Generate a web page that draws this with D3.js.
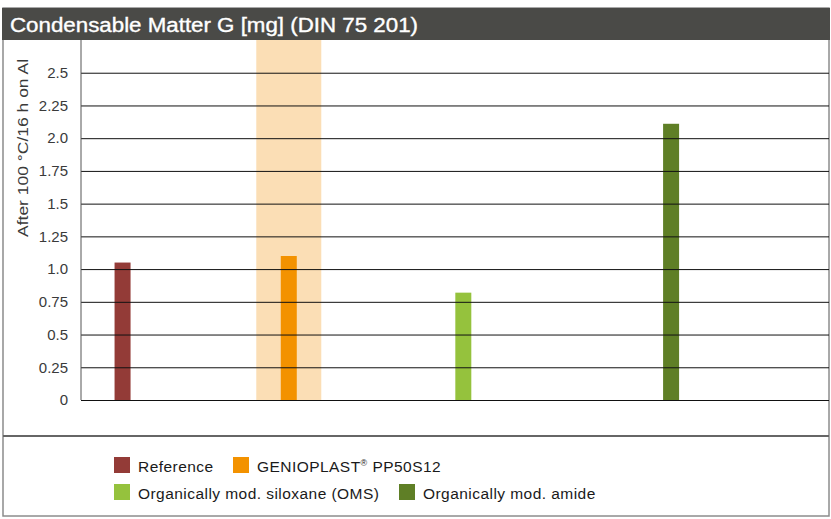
<!DOCTYPE html>
<html>
<head>
<meta charset="utf-8">
<script src="https://cdn.jsdelivr.net/npm/d3@7"></script>
<style>
  body { margin: 0; background: #fff; }
  svg { display: block; font-family: "Liberation Sans", Arial, sans-serif; }
</style>
</head>
<body>
<script>
// * DATA
const categories = ["Reference", "GENIOPLAST® PP50S12", "Organically mod. siloxane (OMS)", "Organically mod. amide"];
const values = [1.05, 1.1, 0.82, 2.11];
const slots = [0.5, 2.5, 4.6, 7.1]; // category position along x, in slot units
const slotCount = 9;
const highlighted = "GENIOPLAST® PP50S12";
const colors = ["#933b37", "#f39200", "#95c23d", "#5f7f26"];
const tickValues = [0, 0.25, 0.5, 0.75, 1.0, 1.25, 1.5, 1.75, 2.0, 2.25, 2.5];
const tickLabels = ["0", "0.25", "0.5", "0.75", "1.0", "1.25", "1.5", "1.75", "2.0", "2.25", "2.5"];

const w = 831;
const h = 519;
const plot = { left: 81, right: 829, top: 40, bottom: 400 };

const svg = d3.select("body").append("svg").attr("width", w).attr("height", h);

// * SCALES
const xScale = d3.scaleLinear().domain([0, slotCount]).range([plot.left, plot.right]);
const yScale = d3.scaleLinear().domain([0, 2.75]).range([plot.bottom, plot.top]);
const barW = 16;

// * FRAME
svg.append("rect")
  .attr("x", 3).attr("y", 8)
  .attr("width", 826).attr("height", 508)
  .attr("fill", "none").attr("stroke", "#8c8c8c").attr("stroke-width", 1.5);

// highlight band behind GENIOPLAST
const hi = categories.indexOf(highlighted);
svg.append("rect")
  .attr("x", xScale(slots[hi]) - 32.5)
  .attr("y", plot.top)
  .attr("width", 65)
  .attr("height", plot.bottom - plot.top)
  .attr("fill", "#fbdeb5");

// * BARS
svg.selectAll(".bar")
  .data(values)
  .enter()
  .append("rect")
  .attr("class", "bar")
  .attr("x", (d, i) => xScale(slots[i]) - barW / 2)
  .attr("y", (d) => yScale(d))
  .attr("width", barW)
  .attr("height", (d) => yScale(0) - yScale(d))
  .attr("fill", (d, i) => colors[i]);

// * GRID + AXIS (drawn over the bars)
const yAxis = d3.axisLeft(yScale)
  .tickValues(tickValues)
  .tickSize(-(plot.right - plot.left))
  .tickPadding(13)
  .tickFormat((d, i) => tickLabels[i]);
const gy = svg.append("g")
  .attr("transform", "translate(" + plot.left + ",0)")
  .call(yAxis);
gy.select(".domain").remove();
gy.selectAll(".tick line").attr("stroke", "#111").attr("stroke-width", 1);
gy.selectAll(".tick text")
  .attr("fill", "#3a3a3a")
  .style("font-size", "15px")
  .style("font-family", "'Liberation Sans', Arial, sans-serif");

svg.append("line")
  .attr("x1", plot.left).attr("x2", plot.left)
  .attr("y1", plot.top).attr("y2", plot.bottom)
  .attr("stroke", "#555").attr("stroke-width", 1);

// y title
svg.append("text")
  .attr("transform", "translate(28,148) rotate(-90)")
  .attr("text-anchor", "middle")
  .attr("fill", "#3a3a3a")
  .style("font-size", "15px")
  .attr("textLength", 178)
  .attr("lengthAdjust", "spacingAndGlyphs")
  .text("After 100 °C/16 h on Al");

// * TITLE BAR
svg.append("rect")
  .attr("x", 2).attr("y", 8)
  .attr("width", 828).attr("height", 32)
  .attr("fill", "#4a4a47");
svg.append("text")
  .attr("x", 10).attr("y", 32)
  .attr("fill", "#fff")
  .attr("stroke", "#fff")
  .attr("stroke-width", 0.35)
  .style("font-size", "19.5px")
  .attr("textLength", 408)
  .attr("lengthAdjust", "spacingAndGlyphs")
  .text("Condensable Matter G [mg] (DIN 75 201)");

// * LEGEND
svg.append("line")
  .attr("x1", 3).attr("x2", 829)
  .attr("y1", 436).attr("y2", 436)
  .attr("stroke", "#666").attr("stroke-width", 2);

const legendPos = [[114, 457], [233, 457], [114, 484], [399, 484]];
const items = svg.selectAll(".legend-item")
  .data(categories)
  .enter()
  .append("g")
  .attr("class", "legend-item")
  .attr("transform", (d, i) => "translate(" + legendPos[i][0] + "," + legendPos[i][1] + ")");
items.append("rect")
  .attr("width", 16).attr("height", 16)
  .attr("fill", (d, i) => colors[i]);
const labels = items.append("text")
  .attr("x", 24).attr("y", 15)
  .attr("fill", "#1a1a1a")
  .style("font-size", "15.5px")
  .style("letter-spacing", "0.45px");
labels.each(function (d) {
  const t = d3.select(this);
  if (d.includes("®")) {
    const parts = d.split("®");
    t.append("tspan").text(parts[0]);
    t.append("tspan").attr("dy", -6).style("font-size", "9px").text("®");
    t.append("tspan").attr("dy", 6).text(parts[1]);
  } else {
    t.text(d);
  }
});
</script>
</body>
</html>
